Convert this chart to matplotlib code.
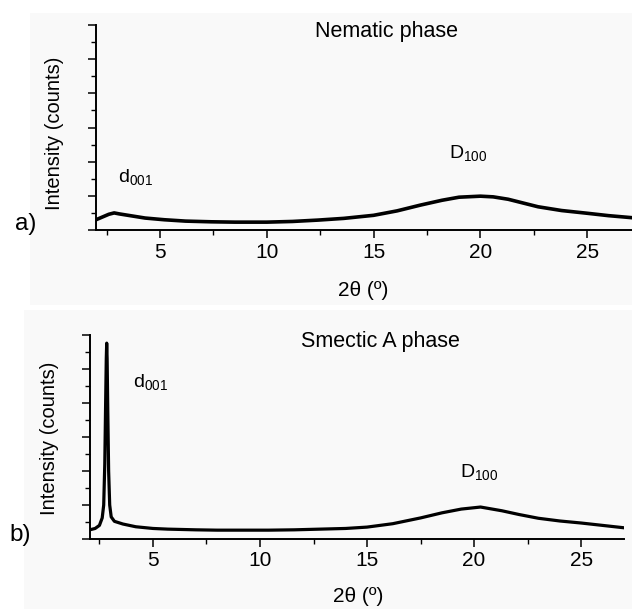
import matplotlib
matplotlib.use("Agg")
import matplotlib.pyplot as plt
from matplotlib.patches import Rectangle
from matplotlib.ticker import MultipleLocator, NullFormatter

plt.rcParams['font.family'] = ['Liberation Sans', 'DejaVu Sans']
plt.rcParams['mathtext.fontset'] = 'custom'
plt.rcParams['mathtext.rm'] = 'Liberation Sans'
plt.rcParams['mathtext.it'] = 'Liberation Sans:italic'
plt.rcParams['mathtext.default'] = 'rm'

# Nematic phase pattern (2theta in degrees, intensity in arbitrary units)
nem_2theta = [2.0, 2.3, 2.6, 2.85, 3.1, 3.6, 4.3, 5.2, 6.2, 7.4, 8.5, 10.0,
              11.2, 12.4, 13.6, 15.0, 16.1, 17.2, 18.2, 19.0, 20.0, 20.6,
              21.3, 22.0, 22.7, 23.8, 25.0, 26.0, 27.1]
nem_counts = [0.30, 0.38, 0.46, 0.50, 0.47, 0.42, 0.35, 0.30, 0.26, 0.24, 0.23, 0.23,
              0.25, 0.29, 0.34, 0.43, 0.56, 0.73, 0.87, 0.96, 0.99, 0.97,
              0.90, 0.79, 0.68, 0.57, 0.49, 0.42, 0.36]

# Smectic A phase pattern
sma_2theta = [2.05, 2.3, 2.5, 2.63, 2.7, 2.75, 2.79, 2.82, 2.84, 2.86, 2.89,
              2.93, 2.98, 3.05, 3.2, 3.6, 4.2, 5.0, 5.7, 7.0, 8.0, 10.4,
              11.6, 12.8, 14.0, 15.0, 16.2, 17.5, 18.5, 19.4, 20.3, 21.3,
              22.1, 23.0, 24.0, 25.0, 26.0, 27.0]
sma_counts = [0.27, 0.31, 0.40, 0.62, 1.0, 2.2, 4.0, 5.3, 5.76, 5.3, 3.8,
              2.0, 1.0, 0.65, 0.52, 0.44, 0.36, 0.31, 0.29, 0.27, 0.26, 0.26,
              0.27, 0.29, 0.31, 0.35, 0.45, 0.62, 0.77, 0.88, 0.94, 0.83,
              0.72, 0.61, 0.53, 0.47, 0.40, 0.33]

W, H = 632, 609
fig = plt.figure(figsize=(W / 100, H / 100), dpi=100)
fig.patch.set_facecolor('white')

# light grey panels behind each plot
fig.patches.append(Rectangle((30 / W, 1 - 305 / H), 1 - 30 / W, (305 - 13) / H,
                             transform=fig.transFigure, facecolor='#f9f9f9',
                             edgecolor='none', zorder=-5))
fig.patches.append(Rectangle((24 / W, 0), 1 - 24 / W, 1 - 310 / H,
                             transform=fig.transFigure, facecolor='#f9f9f9',
                             edgecolor='none', zorder=-5))


def px(x, y):
    return x / W, 1 - y / H


def style(ax, xmin, xmax):
    ax.set_facecolor('none')
    for s in ('top', 'right'):
        ax.spines[s].set_visible(False)
    for s in ('left', 'bottom'):
        ax.spines[s].set_linewidth(1.4)
    ax.set_ylim(0, 6)
    ax.set_xlim(xmin, xmax)
    ax.xaxis.set_major_locator(MultipleLocator(5))
    ax.xaxis.set_minor_locator(MultipleLocator(2.5))
    ax.yaxis.set_major_locator(MultipleLocator(1))
    ax.yaxis.set_minor_locator(MultipleLocator(0.5))
    ax.yaxis.set_major_formatter(NullFormatter())
    ax.tick_params(which='major', direction='out', length=6, width=1.1,
                   labelsize=15, pad=3)
    ax.tick_params(which='minor', direction='out', length=3.5, width=1.0)


ax1 = fig.add_axes([96 / W, 1 - 230 / H, (632 - 96) / W, 205 / H])
style(ax1, 2.0, 27.1)
ax1.plot(nem_2theta, nem_counts, color='black', lw=2.6)

ax2 = fig.add_axes([90 / W, 1 - 539 / H, (624 - 90) / W, 204 / H])
style(ax2, 2.06, 27.0)
ax2.plot(sma_2theta, sma_counts, color='black', lw=2.3)

# panel a texts
fig.text(*px(315, 32), 'Nematic phase', fontsize=15.5, va='center', ha='left')
fig.text(*px(118, 182), 'd$_{001}$', fontsize=14, va='baseline', ha='left')
fig.text(*px(449, 158), 'D$_{100}$', fontsize=14, va='baseline', ha='left')
fig.text(*px(55, 133), 'Intensity (counts)', fontsize=14.5, rotation=90,
         va='center', ha='center')
fig.text(*px(26, 224), 'a)', fontsize=17.5, va='center', ha='center')
fig.text(*px(363, 290), '2θ (º)', fontsize=15, va='center', ha='center')

# panel b texts
fig.text(*px(301, 341), 'Smectic A phase', fontsize=15.5, va='center', ha='left')
fig.text(*px(133, 387), 'd$_{001}$', fontsize=14, va='baseline', ha='left')
fig.text(*px(460, 477), 'D$_{100}$', fontsize=14, va='baseline', ha='left')
fig.text(*px(50, 438), 'Intensity (counts)', fontsize=14.5, rotation=90,
         va='center', ha='center')
fig.text(*px(20, 535), 'b)', fontsize=17.5, va='center', ha='center')
fig.text(*px(358, 597), '2θ (º)', fontsize=15, va='center', ha='center')

fig.savefig('out.png', dpi=100)
